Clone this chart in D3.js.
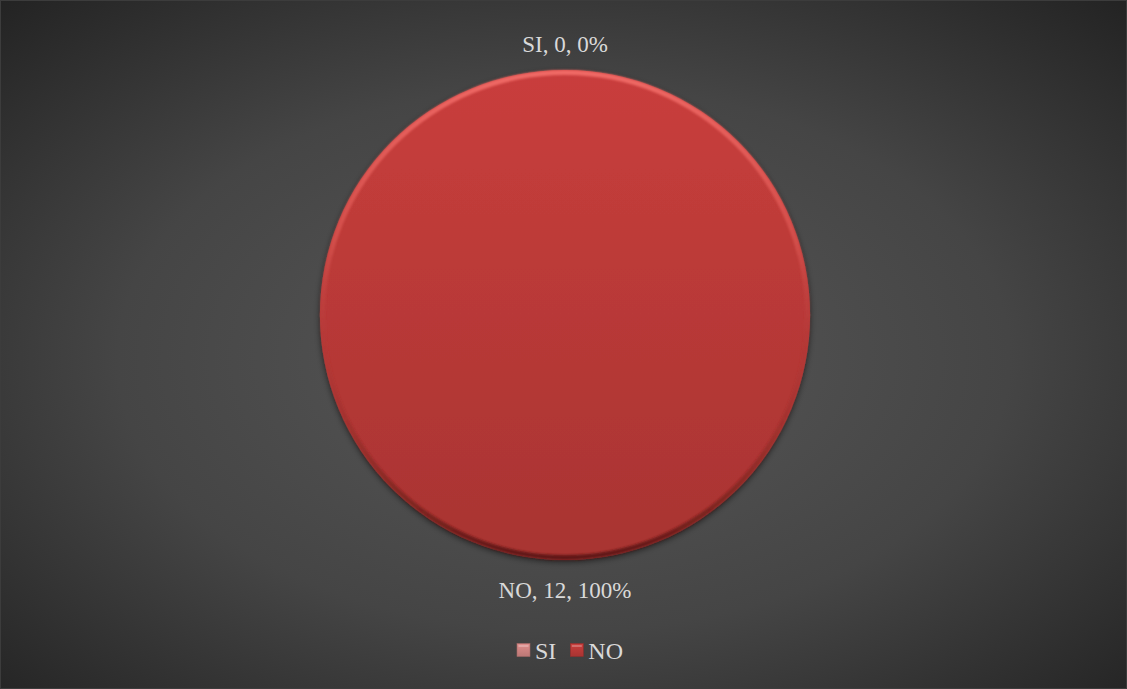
<!DOCTYPE html>
<html>
<head>
<meta charset="utf-8">
<script src="https://cdn.jsdelivr.net/npm/d3@7"></script>
<style>
  html, body { margin: 0; padding: 0; background: #2a2a2a; }
  svg { display: block; }
</style>
</head>
<body>
<svg id="chart" width="1127" height="689"></svg>
<script>
// Answer counts per category
const categories = ["SI", "NO"];
const counts = [0, 12];
const sliceColors = ["#d98a88", "#c33c3a"];

const W = 1127, H = 689;
const cx = 565, cy = 315, R = 245;
const fontFamily = "'Liberation Serif', 'Times New Roman', serif";
const textColor = "#d9d9d9";

const svg = d3.select("#chart");
const defs = svg.append("defs");

// Dark radial background
const bg = defs.append("radialGradient").attr("id", "bgGrad")
  .attr("cx", "50%").attr("cy", "52%").attr("r", "72%");
bg.append("stop").attr("offset", "0%").attr("stop-color", "#585858");
bg.append("stop").attr("offset", "55%").attr("stop-color", "#454545");
bg.append("stop").attr("offset", "100%").attr("stop-color", "#232323");

svg.append("rect").attr("width", W).attr("height", H).attr("fill", "url(#bgGrad)");
svg.append("rect").attr("x", 0.5).attr("y", 0.5).attr("width", W - 1).attr("height", H - 1)
  .attr("fill", "none").attr("stroke", "#3c3c3c").attr("stroke-width", 1);

// Slice fill gradients: top brighter, bottom deeper
function sliceGradient(id, base) {
  const c = d3.color(base);
  const g = defs.append("linearGradient").attr("id", id)
    .attr("x1", 0).attr("y1", 0).attr("x2", 0).attr("y2", 1);
  g.append("stop").attr("offset", "0%").attr("stop-color", c.brighter(0.08).formatHex());
  g.append("stop").attr("offset", "100%").attr("stop-color", c.darker(0.42).formatHex());
}
sliceGradient("slice0", sliceColors[0]);
sliceGradient("slice1", sliceColors[1]);

// Bevel rim: lit from above, shaded below
const rim = defs.append("linearGradient").attr("id", "rimGrad")
  .attr("x1", 0).attr("y1", 0).attr("x2", 0).attr("y2", 1);
rim.append("stop").attr("offset", "0%").attr("stop-color", "#f06a66").attr("stop-opacity", 1);
rim.append("stop").attr("offset", "35%").attr("stop-color", "#e05a56").attr("stop-opacity", 0.6);
rim.append("stop").attr("offset", "60%").attr("stop-color", "#a63230").attr("stop-opacity", 0.2);
rim.append("stop").attr("offset", "100%").attr("stop-color", "#5e1715").attr("stop-opacity", 1);

const shadow = defs.append("filter").attr("id", "shadow")
  .attr("x", "-10%").attr("y", "-10%").attr("width", "120%").attr("height", "120%");
shadow.append("feDropShadow").attr("dx", 0).attr("dy", 2).attr("stdDeviation", 3)
  .attr("flood-color", "#000").attr("flood-opacity", 0.55);

const soft = defs.append("filter").attr("id", "soft");
soft.append("feGaussianBlur").attr("stdDeviation", 0.9);

const data = categories.map((c, i) => ({ name: c, value: counts[i], color: sliceColors[i], idx: i }));
const total = d3.sum(counts);

const pie = d3.pie().value(d => d.value).sort(null);
const arcs = pie(data);
const arc = d3.arc().innerRadius(0).outerRadius(R);
const rimArc = d3.arc().innerRadius(R - 5).outerRadius(R);

const g = svg.append("g").attr("transform", `translate(${cx},${cy})`);

const visible = arcs.filter(a => a.value > 0);
g.selectAll("path.slice").data(visible).join("path")
  .attr("class", "slice")
  .attr("d", arc)
  .attr("fill", d => `url(#slice${d.data.idx})`)
  .attr("filter", "url(#shadow)");

g.selectAll("path.rim").data(visible).join("path")
  .attr("class", "rim")
  .attr("d", rimArc)
  .attr("fill", "url(#rimGrad)")
  .attr("filter", "url(#soft)");

// Data labels outside the pie: "name, value, percent"
const pct = d3.format(".0%");
const gap = 18, ascent = 20;
g.selectAll("text.lbl").data(arcs).join("text")
  .attr("class", "lbl")
  .attr("x", d => {
    const a = (d.startAngle + d.endAngle) / 2;
    return Math.sin(a) * (R + gap);
  })
  .attr("y", d => {
    const a = (d.startAngle + d.endAngle) / 2;
    const c = -Math.cos(a);
    return c * (R + gap) + (c > 0 ? ascent * c : 0);
  })
  .attr("text-anchor", "middle")
  .attr("font-family", fontFamily)
  .attr("font-size", 23)
  .attr("fill", textColor)
  .text(d => `${d.data.name}, ${d.data.value}, ${pct(total ? d.data.value / total : 0)}`);

// Legend
const legendY = 651;
const legend = svg.append("g");
const items = legend.selectAll("g").data(data).join("g");
const sw = 13, pad = 5, itemGap = 14;
const widths = [];
items.each(function (d) {
  const it = d3.select(this);
  it.append("rect").attr("width", sw).attr("height", sw).attr("y", -sw / 2 - 1)
    .attr("fill", `url(#slice${d.idx})`)
    .attr("stroke", d3.color(d.color).darker(0.8).formatHex()).attr("stroke-width", 0.6);
  it.append("rect").attr("x", 1.5).attr("y", -sw / 2 + 0.5).attr("width", sw - 3).attr("height", 2)
    .attr("fill", "#ffffff").attr("opacity", 0.25);
  const t = it.append("text").attr("x", sw + pad).attr("dy", "0.35em")
    .attr("font-family", fontFamily).attr("font-size", 24).attr("fill", textColor)
    .text(d.name);
  widths.push(sw + pad + t.node().getComputedTextLength());
});
const totalW = d3.sum(widths) + itemGap * (widths.length - 1);
const legendX = cx + 5 - totalW / 2;
items.attr("transform", (d, i) => {
  const x = legendX + d3.sum(widths.slice(0, i)) + itemGap * i;
  return `translate(${x},${legendY})`;
});
</script>
</body>
</html>
